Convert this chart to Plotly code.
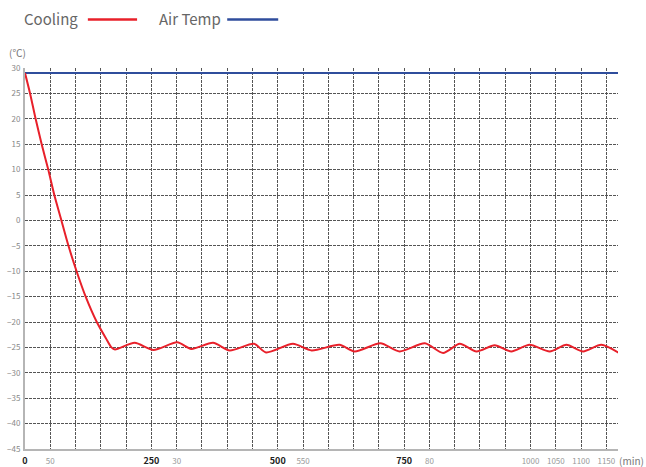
import plotly.graph_objects as go

# ---- data ----
cooling_time = [0, 10, 21, 33, 46, 58, 72, 86, 102, 120, 142, 160, 171, 178,
                217, 254, 301, 329, 372, 405, 453, 477, 530, 567, 622, 652,
                703, 741, 791, 827, 860, 893, 929, 962, 998, 1038, 1071, 1104,
                1140, 1175]
cooling_temp = [29, 25, 20, 15, 10, 5, 0, -5, -10, -15, -20, -23.2, -25, -25.4,
                -24.1, -25.5, -24.0, -25.3, -24.1, -25.6, -24.3, -26.0, -24.3, -25.6, -24.5, -25.8,
                -24.2, -25.8, -24.2, -26.1, -24.3, -25.8, -24.6, -25.8, -24.5, -25.8, -24.5, -25.8,
                -24.5, -26.1]
air_time = [0, 1175]
air_temp = [29, 29]

x_tick_vals = list(range(0, 1151, 50))
x_tick_labels = {0: "<b>0</b>", 50: "50", 250: "<b>250</b>", 300: "30",
                 500: "<b>500</b>", 550: "550", 750: "<b>750</b>", 800: "80",
                 1000: "1000", 1050: "1050", 1100: "1100", 1150: "1150"}
y_tick_vals = list(range(-45, 31, 5))

GRAY = "#777777"
RED = "#e8202a"
BLUE = "#2f4d9c"
FONT = "Noto Sans CJK KR"

def xlabel(v):
    t = x_tick_labels.get(v, "")
    if t.startswith("<b>"):
        return "<span style='color:#222222;font-size:9px'>" + t + "</span>"
    return t

fig = go.Figure()
fig.add_trace(go.Scatter(x=air_time, y=air_temp, mode="lines",
                         line=dict(color=BLUE, width=2), name="Air Temp",
                         showlegend=False))
fig.add_trace(go.Scatter(x=cooling_time, y=cooling_temp, mode="lines",
                         line=dict(color=RED, width=2, shape="spline", smoothing=0.7),
                         name="Cooling", showlegend=False))

fig.update_layout(
    width=646, height=467,
    margin=dict(l=25, r=28, t=68, b=18),
    paper_bgcolor="white", plot_bgcolor="white",
    font=dict(family=FONT, color=GRAY, size=8),
    xaxis=dict(range=[0, 1173], tickvals=x_tick_vals,
               ticktext=[xlabel(v) for v in x_tick_vals],
               showgrid=True, gridcolor="#555555", griddash="3px,1px", gridwidth=1,
               showline=True, linecolor="#b5b5b5", linewidth=2,
               zeroline=False, ticks="", automargin=False, ticklabelstandoff=3,
               tickfont=dict(size=8, color="#999999")),
    yaxis=dict(range=[-45, 30], tickvals=y_tick_vals,
               showgrid=True, gridcolor="#555555", griddash="3px,1px", gridwidth=1,
               showline=True, linecolor="#b5b5b5", linewidth=2,
               zeroline=False, ticks="", automargin=False, ticklabelstandoff=1,
               tickfont=dict(size=8, color="#888888")),
)

# legend built from annotations (text before line sample)
fig.add_annotation(xref="paper", yref="paper", x=-0.005, y=1.13, xanchor="left", yanchor="middle",
                   text="Cooling", showarrow=False, font=dict(size=15, color="#666666", family=FONT))
fig.add_shape(type="line", xref="paper", yref="paper", x0=0.106, x1=0.189, y0=1.127, y1=1.127,
              line=dict(color=RED, width=2.5))
fig.add_annotation(xref="paper", yref="paper", x=0.222, y=1.13, xanchor="left", yanchor="middle",
                   text="Air Temp", showarrow=False, font=dict(size=15, color="#666666", family=FONT))
fig.add_shape(type="line", xref="paper", yref="paper", x0=0.341, x1=0.427, y0=1.127, y1=1.127,
              line=dict(color=BLUE, width=2.5))
fig.add_annotation(xref="paper", yref="paper", x=-0.03, y=1.015, xanchor="left", yanchor="bottom",
                   text="(℃)", showarrow=False, font=dict(size=10, color="#777777", family=FONT))
fig.add_annotation(xref="paper", yref="paper", x=0.998, y=-0.031, xanchor="left", yanchor="middle",
                   text="(min)", showarrow=False, font=dict(size=10, color="#777777", family=FONT))

fig.write_html("out.html", config={"displayModeBar": False},
               post_script="document.body.style.margin='0';document.body.style.overflow='hidden';")
